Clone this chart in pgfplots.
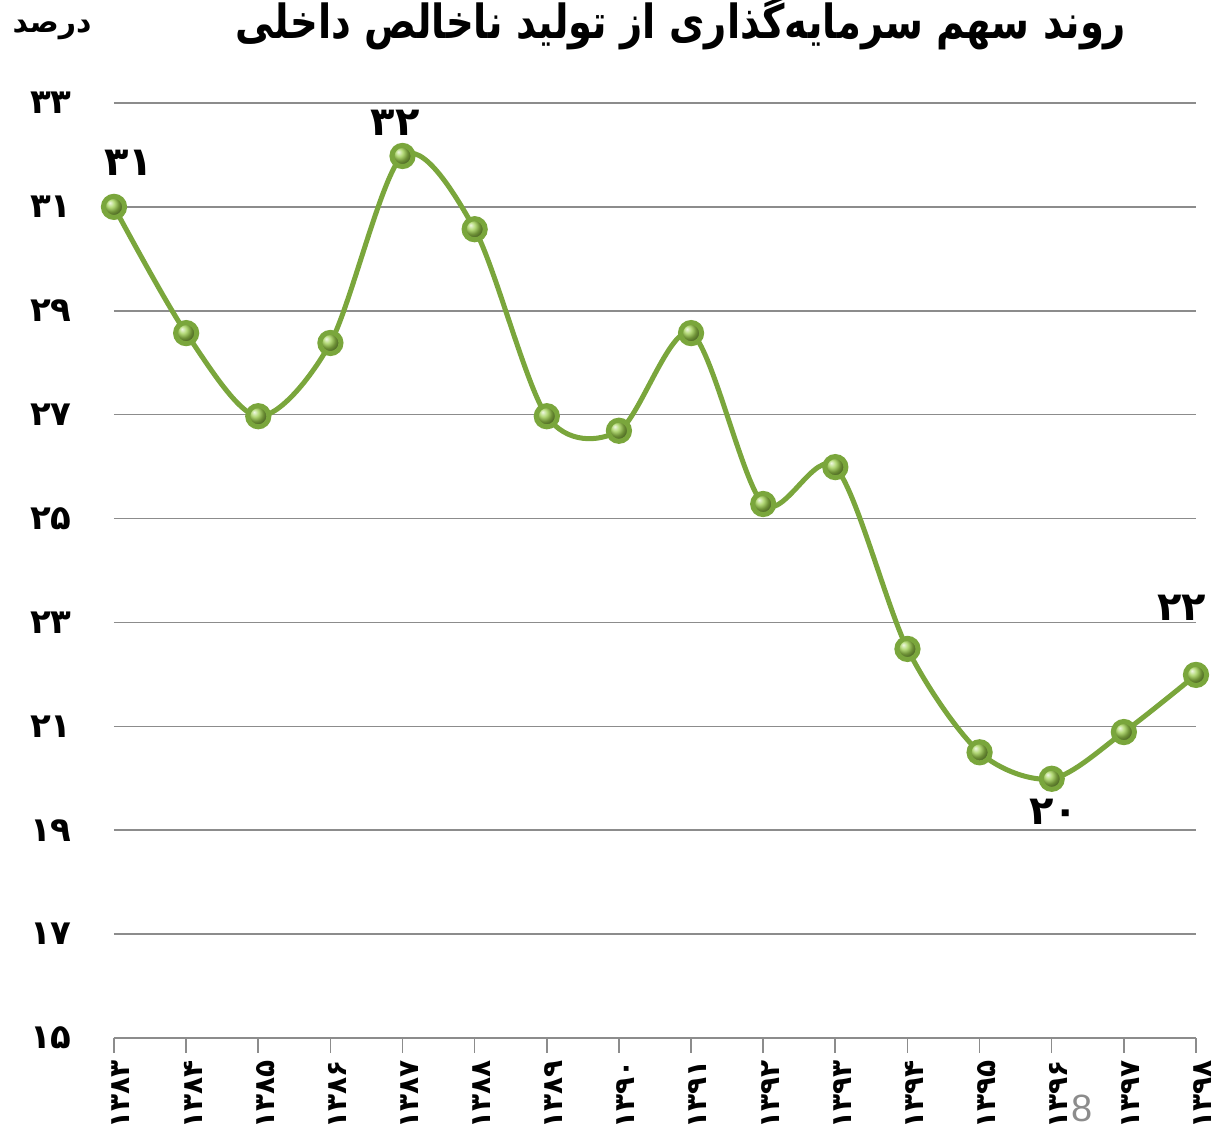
\documentclass[border=0pt]{standalone}
\usepackage{pgfplots}
\pgfplotsset{compat=1.18}
\usepackage{fontspec}
\setmainfont{Liberation Sans}
\TeXXeTstate=1
\newfontfamily\fa[Script=Arabic]{DejaVu Sans}
\definecolor{lin}{RGB}{122,166,60}
\definecolor{ballc}{RGB}{155,205,75}
\definecolor{grd}{RGB}{140,140,140}
\begin{document}
\begin{tikzpicture}
\begin{axis}[
  name=ax,
  scale only axis, width=541pt, height=467.5pt,
  xmin=1383, xmax=1398, ymin=15, ymax=33,
  clip=false,
  separate axis lines,
  axis x line*=bottom, axis y line*=left,
  x axis line style={draw=grd, line width=0.8pt},
  y axis line style={draw=none},
  xtick={1383,...,1398},
  xticklabels={۱۳۸۳,۱۳۸۴,۱۳۸۵,۱۳۸۶,۱۳۸۷,۱۳۸۸,۱۳۸۹,۱۳۹۰,۱۳۹۱,۱۳۹۲,۱۳۹۳,۱۳۹۴,۱۳۹۵,۱۳۹۶,۱۳۹۷,۱۳۹۸},
  ytick={15,17,...,33},
  yticklabels={۱۵,۱۷,۱۹,۲۱,۲۳,۲۵,۲۷,۲۹,۳۱,۳۳},
  x tick style={draw=grd, line width=0.8pt},
  y tick style={draw=none},
  tick align=outside,
  major tick length=7.5pt,
  ymajorgrids,
  grid style={grd, line width=0.8pt},
  xticklabel style={font=\fa\bfseries\fontsize{14}{14}\selectfont, rotate=90, anchor=east, yshift=-3.5pt},
  yticklabel style={font=\fa\bfseries\fontsize{17}{17}\selectfont, anchor=center, xshift=-24pt},
]
\addplot[lin, line width=2.5pt, smooth, tension=0.5, mark=ball, mark size=5.3pt,
  mark options={ball color=ballc, draw=none}] coordinates {
  (1383,31.0) (1384,28.57) (1385,26.97) (1386,28.38) (1387,31.98) (1388,30.57)
  (1389,26.97) (1390,26.69) (1391,28.57) (1392,25.28) (1393,25.99) (1394,22.49)
  (1395,20.5) (1396,19.99) (1397,20.89) (1398,21.99)};
\node[font=\fa\bfseries\fontsize{20}{20}\selectfont] at (axis cs:1383.2,31.85) {۳۱};
\node[font=\fa\bfseries\fontsize{20}{20}\selectfont] at (axis cs:1386.9,32.62) {۳۲};
\node[font=\fa\bfseries\fontsize{20}{20}\selectfont] at (axis cs:1396.03,19.36) {۲۰};
\node[font=\fa\bfseries\fontsize{20}{20}\selectfont] at (axis cs:1397.8,23.29) {۲۲};
\end{axis}
\node[font=\fa\bfseries\fontsize{23.5}{23.5}\selectfont] at ([xshift=283.5pt,yshift=40pt]ax.north west) {\scalebox{0.82}[1]{\beginR روند سهم سرمایه‌گذاری از تولید ناخالص داخلی\endR}};
\node[font=\fa\bfseries\fontsize{15}{15}\selectfont] at ([xshift=-31pt,yshift=36.5pt]ax.north west) {\beginR درصد\endR};
\node[font=\fontsize{19}{19}\selectfont, text=grd] at ([xshift=484pt,yshift=-35pt]ax.south west) {8};
\pgfresetboundingbox
\path ([xshift=-57pt,yshift=-53.5pt]ax.south west) rectangle ([xshift=10pt,yshift=51.5pt]ax.north east);
\end{tikzpicture}
\end{document}
